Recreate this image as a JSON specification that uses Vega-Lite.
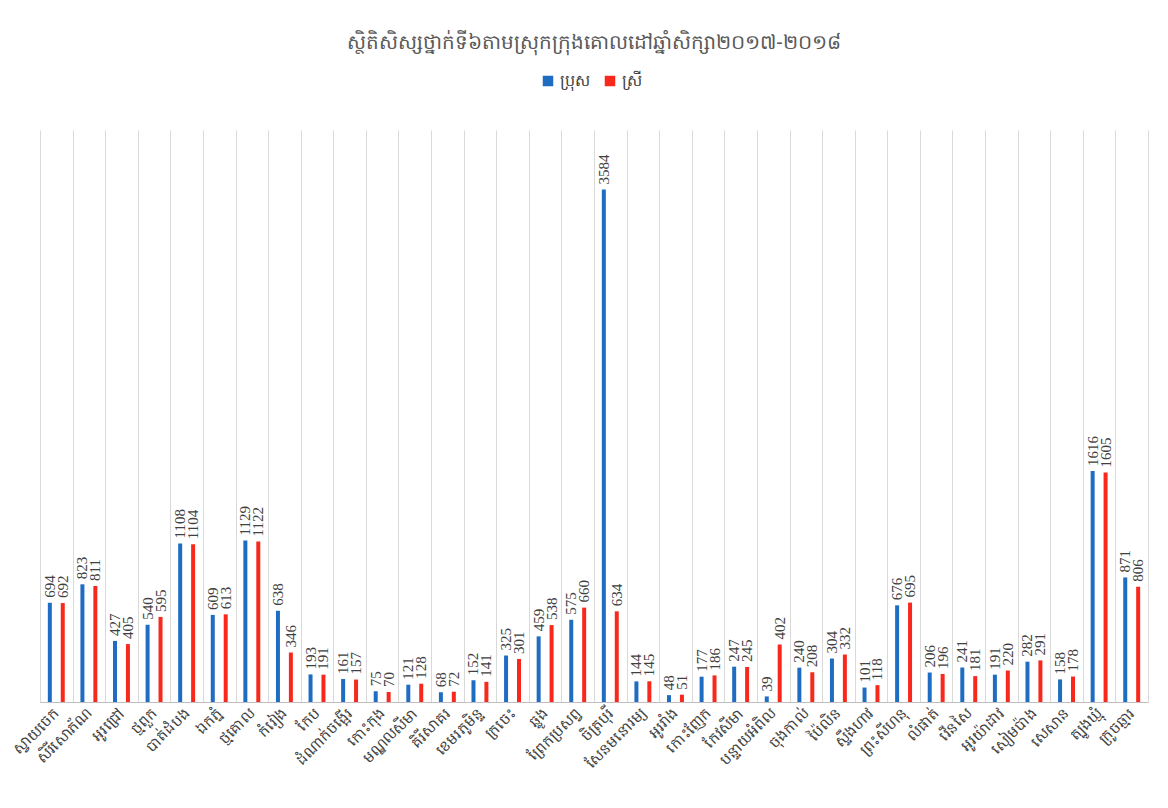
{
  "$schema": "https://vega.github.io/schema/vega-lite/v6.json",
  "width": 1108,
  "height": 572,
  "autosize": {"type": "none"},
  "padding": {"left": 40, "top": 130, "right": 20, "bottom": 106},
  "background": "white",
  "title": {
    "text": "ស្ថិតិសិស្សថ្នាក់ទី៦តាមស្រុកក្រុងគោលដៅឆ្នាំសិក្សា២០១៧-២០១៨",
    "fontSize": 20,
    "fontWeight": "normal",
    "color": "#595959",
    "anchor": "middle",
    "offset": 20
  },
  "config": {
    "view": {"stroke": null},
    "font": "Noto Sans"
  },
  "data": {
    "values": [
      {"district": "ស្វាយចេក", "sex": "ប្រុស", "value": 694},
      {"district": "ស្វាយចេក", "sex": "ស្រី", "value": 692},
      {"district": "សិរីសោភ័ណ", "sex": "ប្រុស", "value": 823},
      {"district": "សិរីសោភ័ណ", "sex": "ស្រី", "value": 811},
      {"district": "អូរជ្រៅ", "sex": "ប្រុស", "value": 427},
      {"district": "អូរជ្រៅ", "sex": "ស្រី", "value": 405},
      {"district": "ថ្មពួក", "sex": "ប្រុស", "value": 540},
      {"district": "ថ្មពួក", "sex": "ស្រី", "value": 595},
      {"district": "បាត់ដំបង", "sex": "ប្រុស", "value": 1108},
      {"district": "បាត់ដំបង", "sex": "ស្រី", "value": 1104},
      {"district": "ឯកភ្នំ", "sex": "ប្រុស", "value": 609},
      {"district": "ឯកភ្នំ", "sex": "ស្រី", "value": 613},
      {"district": "ថ្មគោល", "sex": "ប្រុស", "value": 1129},
      {"district": "ថ្មគោល", "sex": "ស្រី", "value": 1122},
      {"district": "កំរៀង", "sex": "ប្រុស", "value": 638},
      {"district": "កំរៀង", "sex": "ស្រី", "value": 346},
      {"district": "កែប", "sex": "ប្រុស", "value": 193},
      {"district": "កែប", "sex": "ស្រី", "value": 191},
      {"district": "ដំណាក់ចង្អើរ", "sex": "ប្រុស", "value": 161},
      {"district": "ដំណាក់ចង្អើរ", "sex": "ស្រី", "value": 157},
      {"district": "កោះកុង", "sex": "ប្រុស", "value": 75},
      {"district": "កោះកុង", "sex": "ស្រី", "value": 70},
      {"district": "មណ្ឌលសីមា", "sex": "ប្រុស", "value": 121},
      {"district": "មណ្ឌលសីមា", "sex": "ស្រី", "value": 128},
      {"district": "គិរីសាគរ", "sex": "ប្រុស", "value": 68},
      {"district": "គិរីសាគរ", "sex": "ស្រី", "value": 72},
      {"district": "ខេមរភូមិន្ទ", "sex": "ប្រុស", "value": 152},
      {"district": "ខេមរភូមិន្ទ", "sex": "ស្រី", "value": 141},
      {"district": "ក្រចេះ", "sex": "ប្រុស", "value": 325},
      {"district": "ក្រចេះ", "sex": "ស្រី", "value": 301},
      {"district": "ឆ្លូង", "sex": "ប្រុស", "value": 459},
      {"district": "ឆ្លូង", "sex": "ស្រី", "value": 538},
      {"district": "ព្រែកប្រសព្វ", "sex": "ប្រុស", "value": 575},
      {"district": "ព្រែកប្រសព្វ", "sex": "ស្រី", "value": 660},
      {"district": "ចិត្របុរី", "sex": "ប្រុស", "value": 3584},
      {"district": "ចិត្របុរី", "sex": "ស្រី", "value": 634},
      {"district": "សែនមនោរម្យ", "sex": "ប្រុស", "value": 144},
      {"district": "សែនមនោរម្យ", "sex": "ស្រី", "value": 145},
      {"district": "អូររាំង", "sex": "ប្រុស", "value": 48},
      {"district": "អូររាំង", "sex": "ស្រី", "value": 51},
      {"district": "កោះញែក", "sex": "ប្រុស", "value": 177},
      {"district": "កោះញែក", "sex": "ស្រី", "value": 186},
      {"district": "កែវសីមា", "sex": "ប្រុស", "value": 247},
      {"district": "កែវសីមា", "sex": "ស្រី", "value": 245},
      {"district": "បន្ទាយអំពិល", "sex": "ប្រុស", "value": 39},
      {"district": "បន្ទាយអំពិល", "sex": "ស្រី", "value": 402},
      {"district": "ចុងកាល់", "sex": "ប្រុស", "value": 240},
      {"district": "ចុងកាល់", "sex": "ស្រី", "value": 208},
      {"district": "ប៉ៃលិន", "sex": "ប្រុស", "value": 304},
      {"district": "ប៉ៃលិន", "sex": "ស្រី", "value": 332},
      {"district": "ស្ទឹងហាវ", "sex": "ប្រុស", "value": 101},
      {"district": "ស្ទឹងហាវ", "sex": "ស្រី", "value": 118},
      {"district": "ព្រះសីហនុ", "sex": "ប្រុស", "value": 676},
      {"district": "ព្រះសីហនុ", "sex": "ស្រី", "value": 695},
      {"district": "លំផាត់", "sex": "ប្រុស", "value": 206},
      {"district": "លំផាត់", "sex": "ស្រី", "value": 196},
      {"district": "វើនសៃ", "sex": "ប្រុស", "value": 241},
      {"district": "វើនសៃ", "sex": "ស្រី", "value": 181},
      {"district": "អូរយ៉ាដាវ", "sex": "ប្រុស", "value": 191},
      {"district": "អូរយ៉ាដាវ", "sex": "ស្រី", "value": 220},
      {"district": "សៀមប៉ាង", "sex": "ប្រុស", "value": 282},
      {"district": "សៀមប៉ាង", "sex": "ស្រី", "value": 291},
      {"district": "សេសាន", "sex": "ប្រុស", "value": 158},
      {"district": "សេសាន", "sex": "ស្រី", "value": 178},
      {"district": "ត្បូងឃ្មុំ", "sex": "ប្រុស", "value": 1616},
      {"district": "ត្បូងឃ្មុំ", "sex": "ស្រី", "value": 1605},
      {"district": "ក្រូចឆ្មារ", "sex": "ប្រុស", "value": 871},
      {"district": "ក្រូចឆ្មារ", "sex": "ស្រី", "value": 806}
    ]
  },
  "encoding": {
    "x": {
      "field": "district",
      "type": "nominal",
      "sort": null,
      "scale": {"paddingInner": 0, "paddingOuter": 0},
      "axis": {
        "title": null,
        "labelAngle": -45,
        "labelAlign": "right",
        "labelBaseline": "middle",
        "labelFontSize": 15,
        "labelColor": "#404040",
        "labelPadding": 8,
        "ticks": false,
        "tickBand": "extent",
        "grid": true,
        "gridColor": "#D9D9D9",
        "gridWidth": 1,
        "domainColor": "#BFBFBF",
        "domainWidth": 1
      }
    },
    "xOffset": {
      "field": "sex",
      "type": "nominal",
      "sort": ["ប្រុស", "ស្រី"],
      "scale": {"paddingInner": 0, "paddingOuter": 0.26}
    },
    "y": {
      "field": "value",
      "type": "quantitative",
      "scale": {"domain": [0, 4000]},
      "axis": null
    }
  },
  "layer": [
    {
      "mark": {"type": "bar", "width": 4},
      "encoding": {
        "color": {
          "field": "sex",
          "type": "nominal",
          "sort": ["ប្រុស", "ស្រី"],
          "scale": {"domain": ["ប្រុស", "ស្រី"], "range": ["#1F6DC2", "#F8291C"]},
          "legend": {
            "title": null,
            "orient": "none",
            "legendX": 500,
            "legendY": -57,
            "direction": "horizontal",
            "symbolType": "square",
            "symbolSize": 110,
            "symbolStrokeWidth": 0,
            "labelFontSize": 16,
            "labelColor": "#404040",
            "columnPadding": 12
          }
        }
      }
    },
    {
      "mark": {
        "type": "text",
        "angle": 270,
        "align": "left",
        "baseline": "middle",
        "dx": 5,
        "font": "Liberation Serif",
        "fontSize": 15,
        "color": "#404040"
      },
      "encoding": {
        "text": {"field": "value", "type": "quantitative"}
      }
    }
  ]
}
